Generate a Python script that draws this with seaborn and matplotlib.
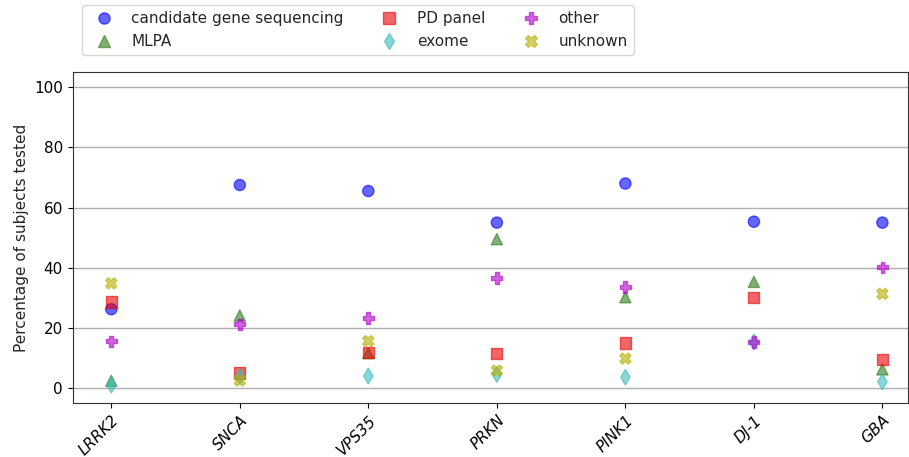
import matplotlib
matplotlib.use("Agg")
import matplotlib.pyplot as plt
import numpy as np
import pandas as pd
import seaborn as sns

genes = ["LRRK2", "SNCA", "VPS35", "PRKN", "PINK1", "DJ-1", "GBA"]
methods = ["candidate gene sequencing", "MLPA", "PD panel", "exome", "other", "unknown"]

candidate = [26.2, 67.5, 65.5, 55.0, 68.0, 55.3, 55.0]
mlpa = [2.4, 24.1, 11.6, 49.5, 30.2, 35.3, 6.2]
pd_panel = [28.6, 5.0, 11.8, 11.6, 15.0, 30.2, 9.4]
exome = [1.0, 3.8, 4.0, 4.5, 3.6, 15.3, 2.1]
other = [15.6, 21.2, 23.3, 36.6, 33.6, 15.3, 40.2]
unknown = [34.8, 2.5, 15.6, 5.8, 9.8, np.nan, 31.3]

colors = ["#0000ff", "#2f7d1a", "#e80000", "#3cbcbc", "#b000c8", "#b4b000"]
marker_list = ["o", "^", "s", "d", "P", "X"]

rows = []
for m, vals in zip(methods, [candidate, mlpa, pd_panel, exome, other, unknown]):
    for g, v in zip(genes, vals):
        rows.append({"gene": g, "method": m, "value": v})
df = pd.DataFrame(rows).dropna()

sns.set_style("ticks")
plt.rcParams["font.family"] = ["DejaVu Sans"]

fig = plt.figure(figsize=(9.09, 4.57), dpi=100)
ax = fig.add_axes([0.080, 0.118, 0.919, 0.724])

sns.scatterplot(data=df, x="gene", y="value", hue="method", style="method",
                hue_order=methods, style_order=methods,
                palette=dict(zip(methods, colors)),
                markers=dict(zip(methods, marker_list)),
                s=65, alpha=0.6, edgecolor="face", linewidth=1,
                ax=ax, legend=True, zorder=3)

ax.set_xlim(-0.3, 6.2)
ax.set_ylim(-5, 105)
ax.set_yticks([0, 20, 40, 60, 80, 100])
ax.yaxis.grid(True, color="#b0b0b0", linewidth=1)
ax.set_axisbelow(True)
ax.set_xlabel("")
ax.set_ylabel("Percentage of subjects tested", fontsize=11)
ax.tick_params(axis="both", labelsize=11, colors="black")
for lbl in ax.get_xticklabels():
    lbl.set_rotation(45)
    lbl.set_ha("right")
    lbl.set_rotation_mode("anchor")
    lbl.set_style("italic")
for sp in ax.spines.values():
    sp.set_color("#333333")

handles, labels = ax.get_legend_handles_labels()
ax.get_legend().remove()
fig.legend(handles, labels, loc="upper left", bbox_to_anchor=(0.082, 1.005),
           ncol=3, fontsize=11, frameon=True, columnspacing=2.0,
           handletextpad=0.8, borderpad=0.4)

fig.savefig("out.png", dpi=100)
